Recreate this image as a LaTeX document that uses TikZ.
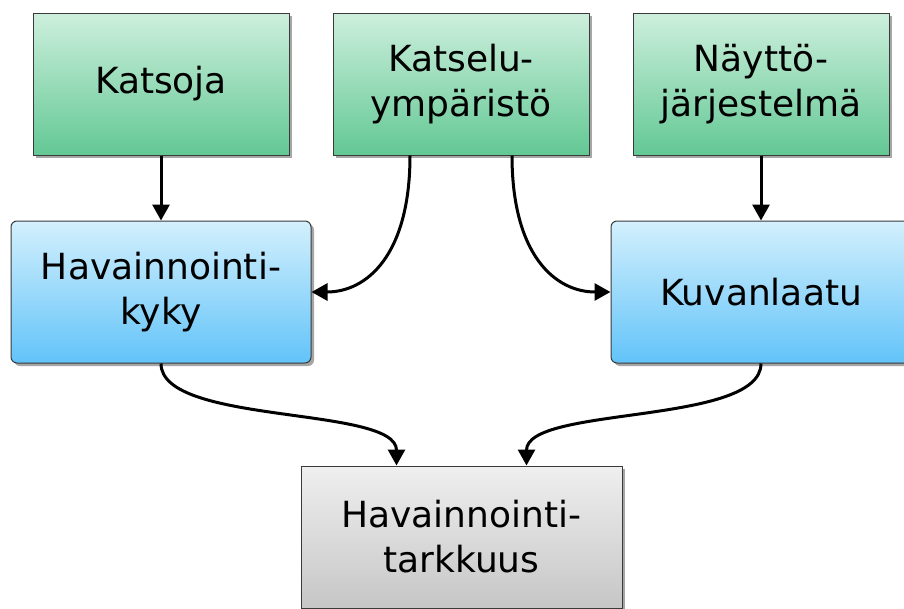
\documentclass[tikz,border=0pt]{standalone}
\usepackage{fontspec}
\setmainfont{DejaVu Sans}
\usetikzlibrary{arrows.meta,shadows}
\definecolor{gtop}{HTML}{CDEFDD}
\definecolor{gbot}{HTML}{63C894}
\definecolor{btop}{HTML}{D3F0FD}
\definecolor{bbot}{HTML}{62C3F9}
\definecolor{ktop}{HTML}{EFEFEF}
\definecolor{kbot}{HTML}{C6C6C6}
\definecolor{edge}{HTML}{3A3A3A}
\tikzset{
  basebox/.style={draw=edge, line width=1pt, align=center, inner sep=0pt,
    font=\fontsize{36}{45}\selectfont,
    drop shadow={shadow xshift=3pt, shadow yshift=-3pt, fill=black!35, opacity=1}},
  greenbox/.style={basebox, top color=gtop, bottom color=gbot, minimum width=256pt, minimum height=142pt},
  bluebox/.style={basebox, top color=btop, bottom color=bbot, rounded corners=6pt, minimum width=300pt, minimum height=142pt},
  greybox/.style={basebox, top color=ktop, bottom color=kbot, minimum width=321pt, minimum height=142pt},
  conn/.style={line width=3pt, -{Triangle[length=16pt,width=17pt]}}
}
\begin{document}
\begin{tikzpicture}[x=1pt,y=-1pt]
\useasboundingbox (0,0) rectangle (904,608);
\node[greenbox] (katsoja) at (161,84) {Katsoja};
\node[greenbox] (ymp) at (461,84) {Katselu-\\ympäristö};
\node[greenbox] (nayt) at (761,84) {Näyttö-\\järjestelmä};
\node[bluebox] (kyky) at (161,292) {Havainnointi-\\kyky};
\node[bluebox] (kuva) at (761,292) {Kuvanlaatu};
\node[greybox] (tark) at (461.5,537) {Havainnointi-\\tarkkuus};
\coordinate (ymps1) at ([xshift=-51pt]ymp.south);
\coordinate (ymps2) at ([xshift=51pt]ymp.south);
\coordinate (tarkn1) at ([xshift=-65pt]tark.north);
\coordinate (tarkn2) at ([xshift=65pt]tark.north);
\draw[conn] (katsoja.south) -- (kyky.north);
\draw[conn] (nayt.south) -- (kuva.north);
\draw[conn] (ymps1) .. controls ([yshift=-100pt]ymps1) and ([xshift=55pt]kyky.east) .. (kyky.east);
\draw[conn] (ymps2) .. controls ([yshift=-100pt]ymps2) and ([xshift=-55pt]kuva.west) .. (kuva.west);
\draw[conn] (kyky.south) .. controls ([yshift=-62pt]kyky.south) and ([yshift=60pt]tarkn1) .. (tarkn1);
\draw[conn] (kuva.south) .. controls ([yshift=-62pt]kuva.south) and ([yshift=60pt]tarkn2) .. (tarkn2);
\end{tikzpicture}
\end{document}
